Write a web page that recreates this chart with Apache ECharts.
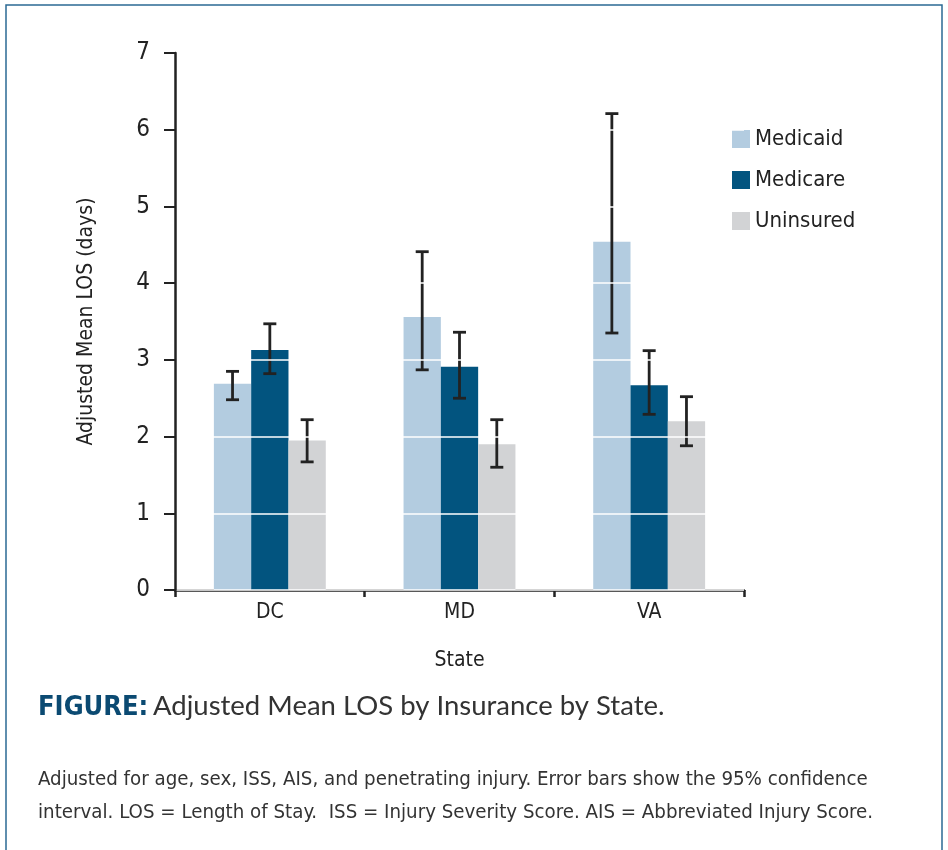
<!DOCTYPE html>
<html>
<head>
<meta charset="utf-8">
<script src="https://cdn.jsdelivr.net/npm/echarts@6/dist/echarts.min.js"></script>
<style>
html,body{margin:0;padding:0;background:#fff;}
#chart{width:948px;height:850px;}
</style>
</head>
<body>
<div id="chart"></div>
<script>
const categories = ['DC', 'MD', 'VA'];
const seriesNames = ['Medicaid', 'Medicare', 'Uninsured'];
const medicaid = [2.69, 3.56, 4.54];
const medicare = [3.13, 2.91, 2.67];
const uninsured = [1.95, 1.90, 2.20];
const medicaidLow = [2.48, 2.87, 3.35];
const medicaidHigh = [2.85, 4.41, 6.21];
const medicareLow = [2.82, 2.50, 2.29];
const medicareHigh = [3.47, 3.36, 3.12];
const uninsuredLow = [1.67, 1.60, 1.88];
const uninsuredHigh = [2.22, 2.22, 2.52];
const yTicks = [0, 1, 2, 3, 4, 5, 6, 7];

const colors = ['#b3cce0', '#02547f', '#d2d3d5'];
const condensed = '"Liberation Sans Narrow", "DejaVu Sans Condensed", "Roboto Condensed", sans-serif';
const gapPct = 0.41;

const values = [medicaid, medicare, uninsured];
const lows = [medicaidLow, medicareLow, uninsuredLow];
const highs = [medicaidHigh, medicareHigh, uninsuredHigh];

function errRender(k) {
  return function (params, api) {
    const band = api.size([1, 0])[0];
    const bw = band * (1 - gapPct) / 3;
    const top = api.coord([api.value(0), api.value(2)]);
    const bot = api.coord([api.value(0), api.value(1)]);
    const x = top[0] + (k - 1) * bw;
    const cap = 6.5;
    const st = { stroke: '#222', lineWidth: 2.8 };
    return {
      type: 'group',
      children: [
        { type: 'line', shape: { x1: x, y1: top[1], x2: x, y2: bot[1] }, style: st },
        { type: 'line', shape: { x1: x - cap, y1: top[1], x2: x + cap, y2: top[1] }, style: st },
        { type: 'line', shape: { x1: x - cap, y1: bot[1], x2: x + cap, y2: bot[1] }, style: st }
      ]
    };
  };
}

const series = [];
seriesNames.forEach((name, k) => {
  series.push({
    name: name,
    type: 'bar',
    data: values[k],
    barGap: '0%',
    barCategoryGap: (gapPct * 100) + '%',
    itemStyle: { color: colors[k] },
    z: 2
  });
});
seriesNames.forEach((name, k) => {
  series.push({
    type: 'custom',
    renderItem: errRender(k),
    data: categories.map((c, i) => [i, lows[k][i], highs[k][i]]),
    z: 3,
    silent: true
  });
});

const chart = echarts.init(document.getElementById('chart'));
chart.setOption({
  animation: false,
  backgroundColor: '#fff',
  grid: { left: 175, top: 53, width: 569, height: 537 },
  legend: {
    data: seriesNames,
    orient: 'vertical',
    left: 727,
    top: 123,
    itemWidth: 18,
    itemHeight: 18,
    itemGap: 19,
    icon: 'rect',
    textStyle: { fontFamily: condensed, fontSize: 22, color: '#222', padding: [0, 0, 0, 0] }
  },
  xAxis: {
    type: 'category',
    data: categories,
    name: 'State',
    nameLocation: 'middle',
    nameGap: 60,
    nameTextStyle: { fontFamily: condensed, fontSize: 21, color: '#222' },
    axisLine: { lineStyle: { color: '#222', width: 2.5 } },
    axisTick: { show: true, length: 7, lineStyle: { color: '#222', width: 2.5 } },
    axisLabel: { fontFamily: condensed, fontSize: 21, color: '#222', margin: 12 }
  },
  yAxis: {
    type: 'value',
    min: 0,
    max: 7,
    interval: 1,
    z: 10,
    name: 'Adjusted Mean LOS (days)',
    nameLocation: 'middle',
    nameGap: 78,
    nameTextStyle: { fontFamily: condensed, fontSize: 21, color: '#222' },
    axisLine: { show: true, lineStyle: { color: '#222', width: 2.5 } },
    axisTick: { show: true, length: 11, lineStyle: { color: '#222', width: 2 } },
    axisLabel: { fontFamily: condensed, fontSize: 24, color: '#222', margin: 25,
      formatter: v => yTicks.includes(v) ? String(v) : '' },
    splitLine: { show: true, lineStyle: { color: '#ffffff', width: 1.5 } }
  },
  series: series,
  graphic: [
    { type: 'rect', shape: { x: 6, y: 5, width: 936, height: 860 }, style: { fill: 'none', stroke: '#2b6a94', lineWidth: 1.5 }, silent: true, z: -1 },
    { type: 'text', left: 38, top: 694, style: { text: 'FIGURE:', font: 'bold 27px ' + condensed, fill: '#0b4a72' } },
    { type: 'text', left: 153, top: 692, style: { text: 'Adjusted Mean LOS by Insurance by State.', font: '27.5px Lato, "Open Sans", sans-serif', fill: '#333' } },
    { type: 'text', left: 38, top: 770, style: { text: 'Adjusted for age, sex, ISS, AIS, and penetrating injury. Error bars show the 95% confidence', font: '20.3px ' + condensed, fill: '#333' } },
    { type: 'text', left: 38, top: 803, style: { text: 'interval. LOS = Length of Stay.  ISS = Injury Severity Score. AIS = Abbreviated Injury Score.', font: '20.3px ' + condensed, fill: '#333' } }
  ]
});
</script>
</body>
</html>
